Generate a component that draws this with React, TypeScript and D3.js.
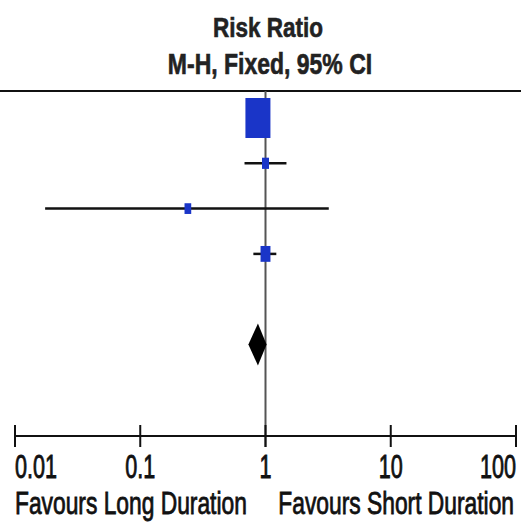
import React from "react";
import * as d3 from "d3";

const studyRR = [0.87, 1.0, 0.24, 1.0];
const studyLower = [0.76, 0.68, 0.0174, 0.8];
const studyUpper = [1.0, 1.47, 3.2, 1.22];
const studyWeight = [76.5, 6.0, 5.5, 12.0];
const studyRow = [0, 1, 2, 3];
const totalRR = 0.87;
const totalLower = 0.73;
const totalUpper = 1.02;
const totalRow = 5;
const tickValues = [0.01, 0.1, 1, 10, 100];
const tickLabels = ["0.01", "0.1", "1", "10", "100"];
const titleLines = ["Risk Ratio", "M-H, Fixed, 95% CI"];
const favourLeft = "Favours Long Duration";
const favourRight = "Favours Short Duration";

const W = 521;
const H = 523;
const FONT = "'Liberation Sans', Arial, sans-serif";
const BLUE = "#1a35c8";

export default function App() {
  const x = d3.scaleLog().domain([0.01, 100]).range([15, 516]);
  const y = d3.scaleLinear().domain([0, 5]).range([118, 344.5]);
  const size = d3.scaleSqrt().domain([0, 76.5]).range([0, 25]);
  const axisY = 436;
  const topLineY = 91;
  const stretch = 1.6;

  const diamond = d3.line()([
    [x(totalLower), y(totalRow)],
    [x(totalRR), y(totalRow) - 21],
    [x(totalUpper), y(totalRow)],
    [x(totalRR), y(totalRow) + 21],
  ]) + "Z";

  const sText = (
    txt: string,
    tx: number,
    ty: number,
    fs: number,
    sy: number,
    anchor: string,
    bold = false
  ) => (
    <text
      transform={`translate(${tx},${ty}) scale(1,${sy})`}
      fontSize={fs}
      fontFamily={FONT}
      fontWeight={bold ? "bold" : "normal"}
      textAnchor={anchor}
      fill={bold ? "#222" : "#111"}
      stroke={bold ? "#222" : "#111"}
      strokeWidth={bold ? 0.5 : 0.6}
    >
      {txt}
    </text>
  );

  return (
    <svg
      width={W}
      height={H}
      style={{ position: "absolute", left: 0, top: 0, background: "#fff" }}
    >
      {sText(titleLines[0], 268, 37, 22.5, 1.25, "middle", true)}
      {sText(titleLines[1], 270, 74, 23, 1.27, "middle", true)}
      <line x1={0} x2={W} y1={topLineY} y2={topLineY} stroke="#111" strokeWidth={2} />
      <line x1={x(1)} x2={x(1)} y1={topLineY} y2={447} stroke="#555" strokeWidth={2} />
      {studyRR.map((rr, i) => {
        const cy = y(studyRow[i]);
        const w = size(studyWeight[i]);
        const h = w * stretch;
        return (
          <g key={i}>
            <line
              x1={x(studyLower[i])}
              x2={x(studyUpper[i])}
              y1={cy}
              y2={cy}
              stroke="#111"
              strokeWidth={2.5}
            />
            <rect x={x(rr) - w / 2} y={cy - h / 2} width={w} height={h} fill={BLUE} />
          </g>
        );
      })}
      <path d={diamond} fill="#000" />
      <line x1={x(0.01)} x2={x(100)} y1={axisY} y2={axisY} stroke="#111" strokeWidth={2} />
      {tickValues.map((t, i) => (
        <g key={t}>
          <line x1={x(t)} x2={x(t)} y1={425} y2={447} stroke="#111" strokeWidth={2} />
          {sText(
            tickLabels[i],
            x(t),
            478,
            21.6,
            1.5,
            i === 0 ? "start" : i === tickValues.length - 1 ? "end" : "middle"
          )}
        </g>
      ))}
      {sText(favourLeft, 15, 514, 22.8, 1.35, "start")}
      {sText(favourRight, 514, 514, 22.8, 1.35, "end")}
    </svg>
  );
}
